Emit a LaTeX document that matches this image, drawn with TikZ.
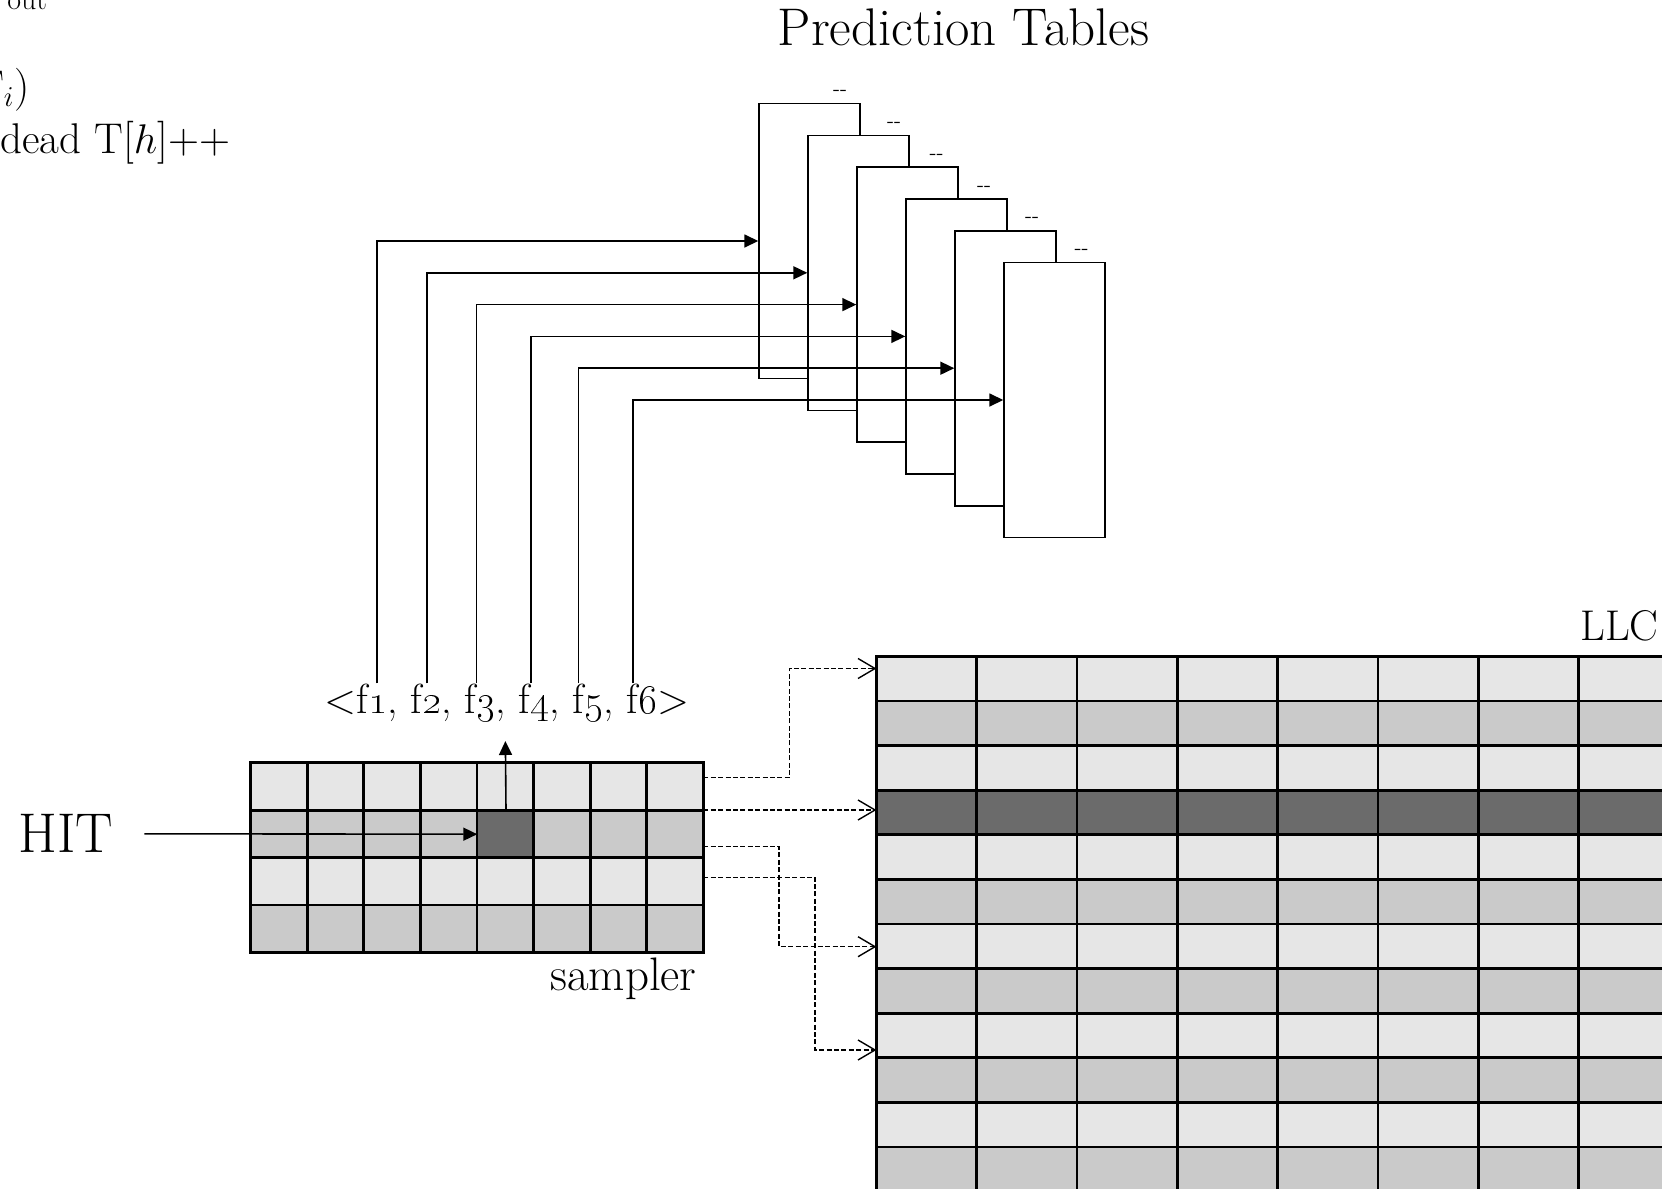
\documentclass[tikz,border=0pt]{standalone}
\usetikzlibrary{arrows.meta}
\definecolor{celllight}{HTML}{E6E6E6}
\definecolor{cellmid}{HTML}{CACACA}
\definecolor{celldark}{HTML}{6B6B6B}
\tikzset{
  ptable/.style={draw=black, line width=0.8pt, fill=white, inner sep=0pt,
    minimum width=50.5pt, minimum height=137.5pt, anchor=north west},
  feed/.style={line width=0.8pt, -{Triangle[length=7pt,width=6.5pt]}},
  probe/.style={line width=0.7pt, dash pattern=on 2.5pt off 1.2pt,
    -{Straight Barb[length=8.5pt,width=10pt,line width=0.7pt]}},
  gridline/.style={line width=1.4pt, line cap=rect},
  lbl/.style={inner sep=0pt, anchor=base},
  area/.style={inner sep=0pt, anchor=north west},
}
\begin{document}
\begin{tikzpicture}[x=0.5pt,y=-0.5pt]
\clip (0,0) rectangle (1662,1189);

% pseudocode running off the upper left corner
\node[lbl, anchor=base west, font=\fontsize{15}{17}\selectfont] (frag1) at (7,9) {out};
\node[lbl, anchor=base east, font=\fontsize{21.5}{25}\selectfont] (frag2) at (30,100) {T$_i$)};
\node[lbl, anchor=base west, font=\fontsize{21.5}{25}\selectfont] (frag3) at (0,153) {dead T[$h$]++};

% title
\node[lbl, font=\fontsize{26.5}{30}\selectfont] (title) at (963.5,45) {Prediction Tables};

% stacked prediction tables, each later one in front
\foreach \i in {1,...,6} {
  \node[ptable] (t\i) at ({758.3+49*(\i-1)},{102.7+31.8*(\i-1)}) {};
}
\foreach \i/\x in {1/840,2/894,3/936.7,4/984,5/1032,6/1081.7} {
  \node[lbl, font=\fontsize{10.5}{12}\selectfont] (tag\i) at (\x,{95.7+31.8*(\i-1)}) {-{}-};
}

% feature vector and its links to the tables
\node[lbl, font=\fontsize{21}{25}\selectfont] (feat) at (507,713)
  {\textless f\oldstylenums{1}, f\oldstylenums{2}, f\oldstylenums{3}, f\oldstylenums{4}, f\oldstylenums{5}, f\oldstylenums{6}\textgreater};
\foreach \i/\x in {1/377,2/426.7,3/476.3,4/530.7,5/578.3,6/632.7} {
  \coordinate (f\i) at (\x,683.3);
}
\foreach \i in {1,...,6} {
  \draw[feed] (f\i) |- (t\i.west);
}

% sampler
\node[area, minimum width=226.3pt, minimum height=94.8pt] (sampler) at (250.7,762.7) {};
\foreach \r/\c in {0/celllight,1/cellmid,2/celllight,3/cellmid} {
  \fill[\c] (250.7,{762.7+47.4*\r}) rectangle (703.3,{762.7+47.4*(\r+1)});
}
\node[area, fill=celldark, minimum width=28.3pt, minimum height=23.7pt] (hitcell) at (477.3,810.1) {};
\foreach \k in {0,...,8} {
  \draw[gridline] ({250.7+56.575*\k},762.7) -- ++(0,189.6);
}
\foreach \k in {0,...,4} {
  \draw[gridline] (250.7,{762.7+47.4*\k}) -- ++(452.6,0);
}
\node[lbl, anchor=base east, font=\fontsize{23.5}{27}\selectfont] (samplerlbl) at (697,990) {sampler};

% hit into the sampler
\node[lbl, anchor=base west, font=\fontsize{28}{32}\selectfont] (hit) at (18,852.7) {HIT};
\coordinate (hitfrom) at (144.3,833.8);
\coordinate (featin) at (505.4,741);
\draw[feed] (hitfrom) -- (hitcell.west);
\draw[feed] (hitcell.north) -- (featin);

% last-level cache
\node[area, minimum width=400pt, minimum height=270pt] (llc) at (876.4,656.3) {};
\foreach \r/\c in {0/celllight,1/cellmid,2/celllight,3/celldark,4/celllight,5/cellmid,
                   6/celllight,7/cellmid,8/celllight,9/cellmid,10/celllight,11/cellmid} {
  \fill[\c] (876.4,{656.3+44.6*\r}) rectangle (1700,{656.3+44.6*(\r+1)});
}
\foreach \k in {0,...,8} {
  \draw[gridline] ({876.4+100.3*\k},656.3) -- (({876.4+100.3*\k},1200);
}
\foreach \k in {0,...,12} {
  \draw[gridline] (876.4,{656.3+44.6*\k}) -- (1700,{656.3+44.6*\k});
}
\node[lbl, anchor=base east, font=\fontsize{21.5}{25}\selectfont] (llclbl) at (1659,640) {LLC};

% sampled sets mapped onto cache sets
\coordinate (s1) at (703.3,777.7);
\coordinate (s2) at (703.3,810);
\coordinate (s3) at (703.3,846.7);
\coordinate (s4) at (703.3,877.3);
\coordinate (l1) at (876.4,668.5);
\coordinate (l2) at (876.4,810);
\coordinate (l3) at (876.4,946.7);
\coordinate (l4) at (876.4,1050);
\draw[probe] (s1) -- ++(86,0) |- (l1);
\draw[probe] (s2) -- (l2);
\draw[probe] (s3) -- ++(75.7,0) |- (l3);
\draw[probe] (s4) -- ++(111.7,0) |- (l4);
\end{tikzpicture}
\end{document}
